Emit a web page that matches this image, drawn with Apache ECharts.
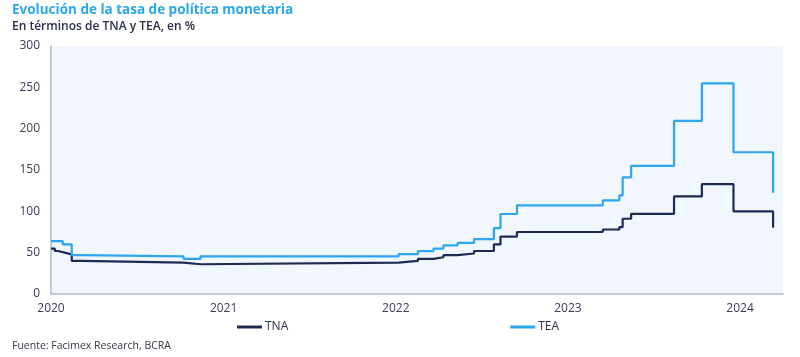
<!DOCTYPE html>
<html>
<head>
<meta charset="utf-8">
<script src="https://cdn.jsdelivr.net/npm/echarts@6/dist/echarts.min.js"></script>
<style>
html,body{margin:0;padding:0;background:#ffffff;}
#chart{width:800px;height:357px;}
</style>
</head>
<body>
<div id="chart"></div>
<script>
// Fechas de cambio de tasa y valores (en %)
var tnaDates = ['2020-01-01','2020-01-09','2020-01-16','2020-01-30','2020-02-14','2020-03-06','2020-10-08','2020-11-13','2022-01-07','2022-02-17','2022-03-22','2022-04-12','2022-05-12','2022-06-16','2022-07-28','2022-08-11','2022-09-15','2023-03-16','2023-04-20','2023-04-27','2023-05-15','2023-08-14','2023-10-12','2023-12-18','2024-03-11'];
var tnaValues = [55, 52, 50, 48, 40, 38, 36, 38, 40, 42.5, 44.5, 47, 49, 52, 60, 69.5, 75, 78, 81, 91, 97, 118, 133, 100, 80];
var teaDates = ['2020-01-01','2020-01-26','2020-02-14','2020-03-06','2020-10-08','2020-11-13','2022-01-07','2022-02-17','2022-03-22','2022-04-12','2022-05-12','2022-06-16','2022-07-28','2022-08-11','2022-09-15','2023-03-16','2023-04-20','2023-04-27','2023-05-15','2023-08-14','2023-10-12','2023-12-18','2024-03-11'];
var teaValues = [64, 60, 47, 45.5, 42.6, 45.5, 48.3, 51.9, 54.9, 58.7, 61.8, 66.5, 79.8, 96.8, 107.3, 113.3, 119.4, 141, 154.9, 209.4, 254.8, 171.5, 122.4];
var yTicks = [0, 50, 100, 150, 200, 250, 300];
var xMin = '2020-01-01';
var xMax = '2024-04-01';

function pairs(d, v) { return d.map(function (x, i) { return [x, v[i]]; }); }

var chart = echarts.init(document.getElementById('chart'), null, {renderer: 'canvas'});
var font = 'Open Sans';
chart.setOption({
  animation: false,
  backgroundColor: '#ffffff',
  title: [
    {text: 'Evolución de la tasa de política monetaria', left: 9, top: 3, padding: [0, 0, 0, 3],
     textStyle: {fontFamily: font, fontSize: 13.5, fontWeight: 'bold', color: '#2aa8ea'}},
    {text: 'En términos de TNA y TEA, en %', left: 9, top: 21, padding: [0, 0, 0, 3],
     textStyle: {fontFamily: font, fontSize: 12, fontWeight: 600, color: '#2b2f48'}},
    {text: 'Fuente: Facimex Research, BCRA', left: 9, top: 341, padding: [0, 0, 0, 3],
     textStyle: {fontFamily: font, fontSize: 10.5, fontWeight: 'normal', color: '#333645'}}
  ],
  grid: {left: 51, right: 17, top: 46, bottom: 63, show: true, backgroundColor: '#f1f7fd', borderWidth: 0, containLabel: false},
  legend: {
    left: 237, top: 321, padding: 0, itemGap: 222, itemWidth: 25, itemHeight: 3, icon: 'rect',
    textStyle: {fontFamily: font, fontSize: 12, color: '#2b2f48', padding: [0, 0, 0, -2]},
    data: ['TNA', 'TEA']
  },
  xAxis: {
    type: 'time', min: xMin, max: xMax,
    minInterval: 365 * 24 * 3600 * 1000, maxInterval: 366 * 24 * 3600 * 1000,
    axisLine: {show: true, lineStyle: {color: '#b5bbc6', width: 1.5}},
    axisTick: {show: false},
    splitLine: {show: false},
    axisLabel: {fontFamily: font, fontSize: 12, color: '#3a3d55', margin: 9, formatter: '{yyyy}', showMinLabel: true, hideOverlap: false}
  },
  yAxis: {
    type: 'value', min: yTicks[0], max: yTicks[yTicks.length - 1], interval: 50,
    axisLine: {show: true, lineStyle: {color: '#b5bbc6', width: 1.5}},
    axisTick: {show: false},
    splitLine: {show: false},
    axisLabel: {fontFamily: font, fontSize: 12, color: '#3a3d55', margin: 11}
  },
  series: [
    {name: 'TNA', type: 'line', step: 'end', showSymbol: false, symbol: 'none',
     data: pairs(tnaDates, tnaValues), lineStyle: {color: '#1f2a52', width: 2.2}, itemStyle: {color: '#1f2a52'}},
    {name: 'TEA', type: 'line', step: 'end', showSymbol: false, symbol: 'none',
     data: pairs(teaDates, teaValues), lineStyle: {color: '#2ba6ef', width: 2.2}, itemStyle: {color: '#2ba6ef'}}
  ]
});
</script>
</body>
</html>
